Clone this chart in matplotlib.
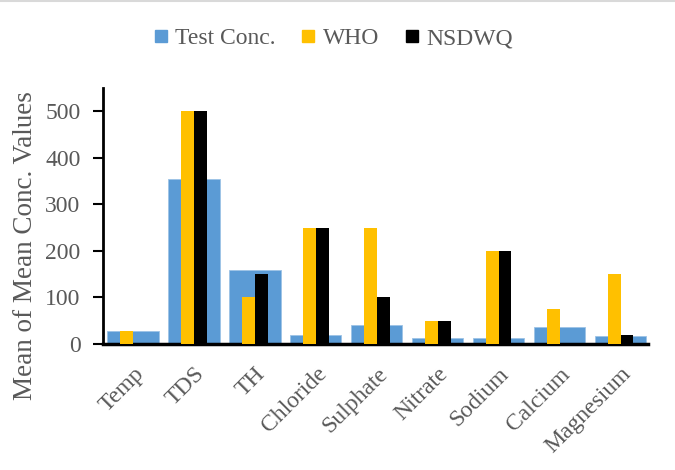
import numpy as np
import matplotlib.pyplot as plt
from matplotlib.lines import Line2D

# parametri e valori
parameters = ['Temp', 'TDS', 'TH', 'Chloride', 'Sulphate', 'Nitrate',
              'Sodium', 'Calcium', 'Magnesium']
test_conc = [27, 354, 158, 19, 41, 13, 13, 36, 18]
who = [27, 500, 100, 250, 250, 50, 200, 75, 150]
nsdwq = [0, 500, 150, 250, 100, 50, 200, 0, 20]

grey = '#595959'
plt.rcParams['font.family'] = ['Liberation Serif', 'DejaVu Serif']

fig = plt.figure(figsize=(6.75, 4.7), dpi=100)
ax = fig.add_axes([0.152, 0.268, 0.808, 0.545])

x = np.arange(len(parameters))
# barra larga per Test Conc., barre strette davanti per WHO e NSDWQ
ax.bar(x, test_conc, width=0.84, color='#5B9BD5', edgecolor='#9DC3E6',
       linewidth=0.6, label='Test Conc.', zorder=2)
ax.bar(x - 0.105, who, width=0.21, color='#FFC000', label='WHO', zorder=3)
ax.bar(x + 0.105, nsdwq, width=0.21, color='#000000', label='NSDWQ', zorder=3)

ax.set_xlim(-0.5, 8.45)
ax.set_ylim(0, 550)
ax.set_yticks(range(0, 501, 100))
ax.set_xticks(x)
ax.set_xticklabels(parameters, rotation=45, ha='right', rotation_mode='anchor',
                   fontsize=17, color=grey)
ax.tick_params(axis='x', length=0, pad=14)
ax.tick_params(axis='y', direction='out', length=7, width=1.5,
               labelsize=17, labelcolor=grey, pad=9)
for s in ['top', 'right']:
    ax.spines[s].set_visible(False)
ax.spines['left'].set_linewidth(2)
ax.spines['bottom'].set_linewidth(2.5)
ax.set_ylabel('Mean of Mean Conc. Values', fontsize=19.5, color=grey)
ax.yaxis.set_label_coords(-0.118, 0.385)

handles = [Line2D([], [], marker='s', linestyle='', markersize=9, color=c)
           for c in ['#5B9BD5', '#FFC000', '#000000']]
fig.legend(handles, ['Test Conc.', 'WHO', 'NSDWQ'], loc='center',
           bbox_to_anchor=(0.49, 0.918), ncol=3, frameon=False, fontsize=17,
           labelcolor=grey, handletextpad=0.1, columnspacing=0.9,
           handlelength=1.0)

# linea grigia in alto
fig.add_artist(Line2D([0, 1], [0.998, 0.998], color='#d9d9d9', linewidth=1.5,
                      transform=fig.transFigure))

fig.savefig('out.png', dpi=100)
